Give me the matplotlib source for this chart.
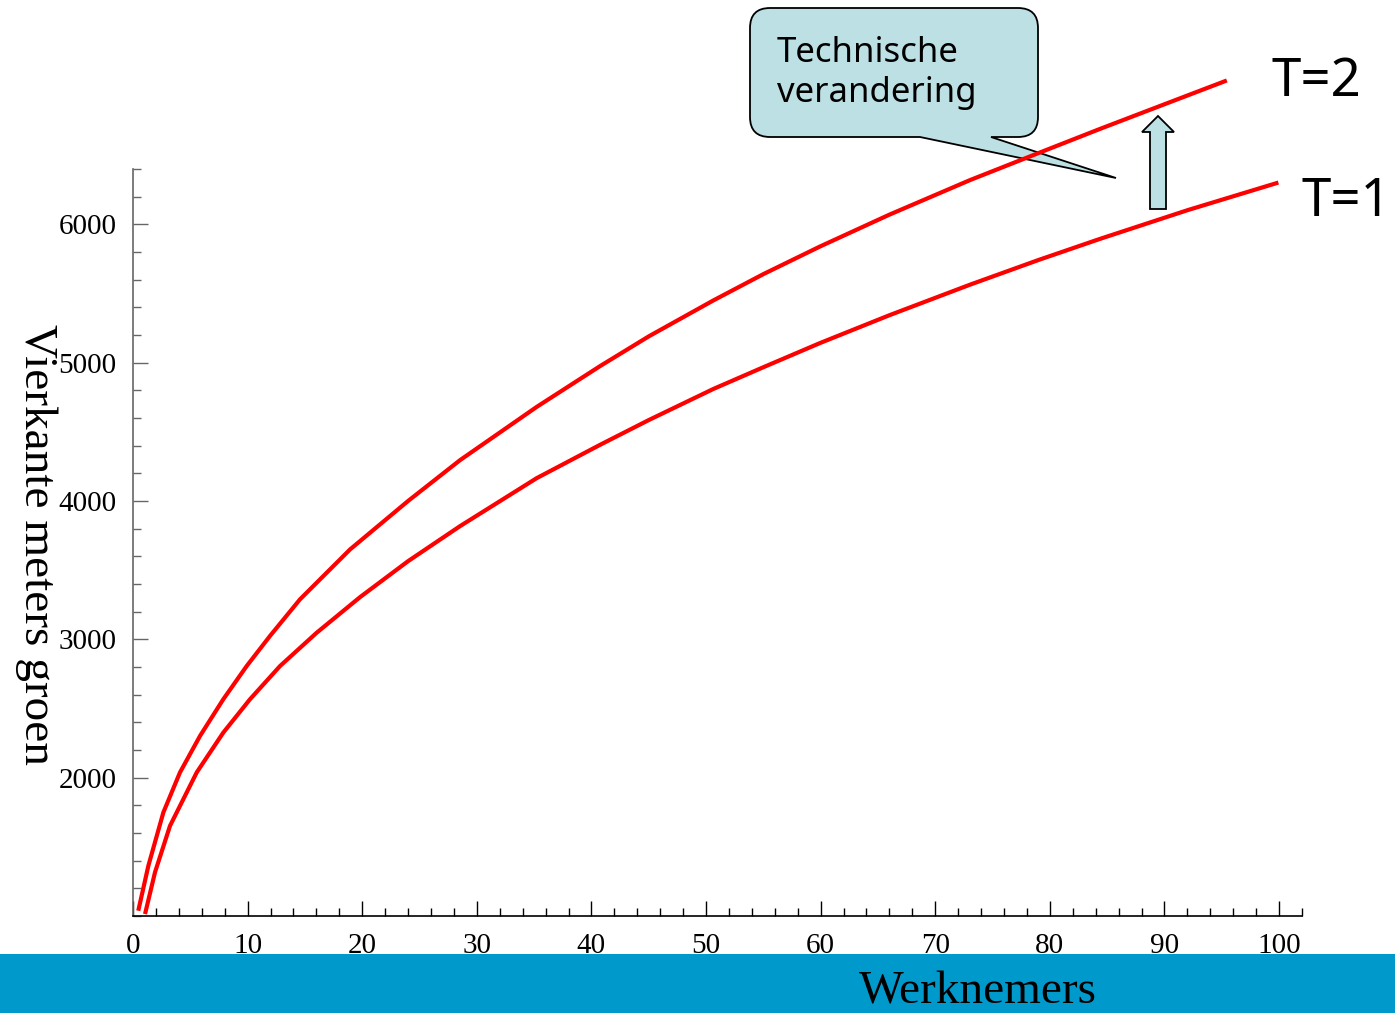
# plot.py
# Productiefunctie: vierkante meters groen tegen aantal werknemers, T=1 en T=2.

import matplotlib
matplotlib.use('Agg')
import matplotlib.pyplot as plt
from matplotlib.path import Path
from matplotlib.patches import PathPatch, Polygon, Rectangle
from matplotlib.ticker import MultipleLocator

# values
werknemers_t1 = [1.05, 1.92, 3.23, 5.56, 7.88, 10.21, 12.83, 16.03, 19.81, 24,
                 28.53, 35.22, 40.75, 45, 50.64, 55, 59.95, 66, 73.04, 79,
                 84.38, 92, 99.94]
groen_t1 = [1014, 1316, 1652, 2038, 2326, 2567, 2807, 3048, 3305, 3565,
            3818, 4165, 4406, 4585, 4810, 4967, 5142, 5343, 5564, 5742,
            5895, 6102, 6302]

werknemers_t2 = [0.46, 1.34, 2.65, 4.10, 5.85, 7.88, 9.92, 11.95, 14.57, 18.94,
                 24, 28.53, 35.22, 40.75, 45, 50.64, 55, 59.95, 66, 73.04,
                 79, 84.38, 90, 95.44]
groen_t2 = [1038, 1363, 1749, 2038, 2302, 2567, 2807, 3024, 3289, 3650,
            4000, 4295, 4680, 4975, 5190, 5450, 5640, 5840, 6070, 6320,
            6515, 6690, 6868, 7040]

x_ticks = [0, 10, 20, 30, 40, 50, 60, 70, 80, 90, 100]
y_ticks = [2000, 3000, 4000, 5000, 6000]

W, H = 1395, 1013
fig = plt.figure(figsize=(W / 100, H / 100), dpi=100)

# overlay in pixel coordinates for the slide decorations
ov = fig.add_axes([0, 0, 1, 1], zorder=0)
ov.set_xlim(0, W)
ov.set_ylim(H, 0)
ov.axis('off')

blue = '#0099CC'
light = '#BCE0E3'
ov.add_patch(Rectangle((0, 954), W, H - 954, facecolor=blue, edgecolor='none'))
ov.text(859, 1003, 'Werknemers', family='Liberation Serif', fontsize=34,
        va='baseline', ha='left', color='black')

# callout box with tail
L, R, T, B, r = 750, 1038, 8, 137, 20
verts = [(L + r, T), (R - r, T), (R, T), (R, T + r), (R, B - r), (R, B), (R - r, B),
         (991, B), (1116, 178), (920, B), (L + r, B), (L, B), (L, B - r),
         (L, T + r), (L, T), (L + r, T), (L + r, T)]
codes = [Path.MOVETO, Path.LINETO, Path.CURVE3, Path.CURVE3, Path.LINETO,
         Path.CURVE3, Path.CURVE3, Path.LINETO, Path.LINETO, Path.LINETO,
         Path.LINETO, Path.CURVE3, Path.CURVE3, Path.LINETO, Path.CURVE3,
         Path.CURVE3, Path.CLOSEPOLY]
ov.add_patch(PathPatch(Path(verts, codes), facecolor=light, edgecolor='black', lw=1.3))
ov.text(777, 62, 'Technische', family='Noto Sans', fontsize=25, va='baseline')
ov.text(777, 102, 'verandering', family='Noto Sans', fontsize=25, va='baseline')

# hollow up arrow
ov.add_patch(Polygon([(1150, 209), (1166, 209), (1166, 132), (1174, 132),
                      (1158, 116), (1142, 132), (1150, 132)],
                     closed=True, facecolor=light, edgecolor='black', lw=1.3))

ov.text(1272, 96, 'T=2', family='Noto Sans', fontsize=38, va='baseline')
ov.text(1301, 216, 'T=1', family='Noto Sans', fontsize=38, va='baseline')

# main chart
ax = fig.add_axes([133 / W, 1 - 916 / H, (1302 - 133) / W, (916 - 169) / H], zorder=1)
ax.patch.set_alpha(0)

ax.plot(werknemers_t1, groen_t1, color='red', lw=3, clip_on=False,
        solid_capstyle='butt', solid_joinstyle='round')
ax.plot(werknemers_t2, groen_t2, color='red', lw=3, clip_on=False,
        solid_capstyle='butt', solid_joinstyle='round')

ax.set_xlim(0, 102)
ax.set_ylim(1000, 6400)
ax.set_xticks(x_ticks)
ax.set_yticks(y_ticks)
ax.xaxis.set_minor_locator(MultipleLocator(2))
ax.yaxis.set_minor_locator(MultipleLocator(200))

for s in ['top', 'right']:
    ax.spines[s].set_visible(False)
ax.spines['bottom'].set_color('black')
ax.spines['left'].set_color('#666666')
ax.spines['bottom'].set_linewidth(1.2)
ax.spines['left'].set_linewidth(1.2)

ax.tick_params(axis='both', which='major', direction='in', length=11, width=1,
               labelsize=21)
ax.tick_params(axis='both', which='minor', direction='in', length=6, width=1)
ax.tick_params(axis='y', which='both', color='#666666', pad=12)
ax.tick_params(axis='x', which='both', pad=12)
for lab in ax.get_xticklabels() + ax.get_yticklabels():
    lab.set_family('Liberation Serif')

ax.set_ylabel('Vierkante meters groen', family='Liberation Serif', fontsize=34,
              rotation=270, va='center')
ax.yaxis.set_label_coords(-97 / (1302 - 133), (916 - 544) / (916 - 169))

fig.savefig('out.png', dpi=100)
